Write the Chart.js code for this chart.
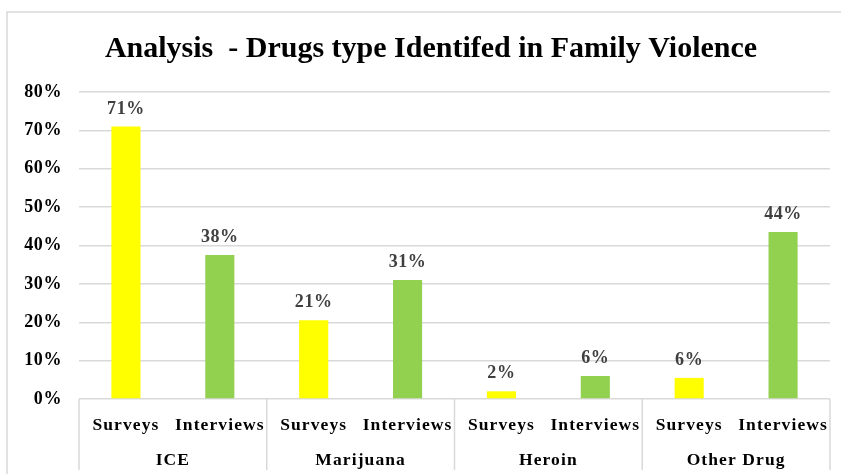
<!DOCTYPE html>
<html>
<head>
<meta charset="utf-8">
<script src="https://cdn.jsdelivr.net/npm/chart.js@4"></script>
<style>
  html, body { margin: 0; padding: 0; background: #fff; }
  #wrap { width: 841px; height: 474px; position: relative; }
</style>
</head>
<body>
<div id="wrap"><canvas id="drugChart"></canvas></div>
<script>
// Data
const drugs = ['ICE', 'Marijuana', 'Heroin', 'Other Drug'];
const methods = ['Surveys', 'Interviews'];
const surveys = [71, 20.5, 2, 5.5];
const interviews = [37.5, 31, 6, 43.5];
const yTicks = [0, 10, 20, 30, 40, 50, 60, 70, 80];

const titleText = 'Analysis  - Drugs type Identifed in Family Violence';
const serif = "'Liberation Serif', 'Times New Roman', serif";

// flatten into 8 bars: Surveys / Interviews per drug
const labels = [];
const values = [];
const colors = [];
drugs.forEach((d, i) => {
    labels.push(methods[0]); values.push(surveys[i]); colors.push('#FFFF00');
    labels.push(methods[1]); values.push(interviews[i]); colors.push('#92D050');
});

const decorPlugin = {
    id: 'decor',
    beforeDraw(chart) {
        const ctx = chart.ctx;
        ctx.save();
        ctx.fillStyle = '#fff';
        ctx.fillRect(0, 0, chart.width, chart.height);
        // outer chart frame (cropped on right/bottom)
        ctx.strokeStyle = '#d9d9d9';
        ctx.lineWidth = 1.5;
        ctx.strokeRect(7, 12, 900, 900);
        // title
        ctx.fillStyle = '#000';
        ctx.font = 'bold 30px ' + serif;
        ctx.textAlign = 'center';
        ctx.textBaseline = 'alphabetic';
        ctx.fillText(titleText, 431, 57);
        ctx.restore();
        chart.ctx.letterSpacing = '0.6px';
    },
    afterDatasetsDraw(chart) {
        const ctx = chart.ctx;
        const meta = chart.getDatasetMeta(0);
        ctx.save();
        ctx.letterSpacing = '0.6px';
        ctx.font = 'bold 18px ' + serif;
        ctx.fillStyle = '#404040';
        ctx.textAlign = 'center';
        ctx.textBaseline = 'alphabetic';
        meta.data.forEach((bar, i) => {
            ctx.fillText(Math.round(values[i]) + '%', bar.x, bar.y - 13);
        });
        ctx.restore();
    },
    afterDraw(chart) {
        const ctx = chart.ctx;
        const x = chart.scales.x;
        const area = chart.chartArea;
        const half = (x.getPixelForValue(1) - x.getPixelForValue(0)) / 2;
        ctx.save();
        // group separators
        ctx.strokeStyle = '#d9d9d9';
        ctx.lineWidth = 1.5;
        for (let g = 0; g <= drugs.length; g++) {
            const px = g < drugs.length ? x.getPixelForValue(g * 2) - half : x.getPixelForValue(g * 2 - 1) + half;
            ctx.beginPath();
            ctx.moveTo(px, area.bottom);
            ctx.lineTo(px, area.bottom + 71);
            ctx.stroke();
        }
        // category labels
        ctx.fillStyle = '#000';
        ctx.font = 'bold 17.5px ' + serif;
        ctx.letterSpacing = '1.1px';
        ctx.textAlign = 'center';
        ctx.textBaseline = 'alphabetic';
        labels.forEach((l, i) => {
            ctx.fillText(l, x.getPixelForValue(i), area.bottom + 31);
        });
        drugs.forEach((d, g) => {
            const cx = (x.getPixelForValue(g * 2) + x.getPixelForValue(g * 2 + 1)) / 2;
            ctx.fillText(d, cx, area.bottom + 66);
        });
        ctx.restore();
    }
};

new Chart(document.getElementById('drugChart'), {
    type: 'bar',
    data: {
        labels,
        datasets: [{
            data: values,
            backgroundColor: colors,
            borderWidth: 0,
            barPercentage: 0.31,
            categoryPercentage: 1
        }]
    },
    options: {
        responsive: true,
        maintainAspectRatio: false,
        animation: false,
        layout: { padding: { top: 92, right: 11, bottom: 0, left: 0 } },
        plugins: {
            legend: { display: false },
            title: { display: false },
            tooltip: { enabled: false }
        },
        scales: {
            x: {
                grid: { display: false },
                border: { display: false },
                ticks: { display: false },
                afterFit: s => { s.height = 75; }
            },
            y: {
                min: 0,
                max: 80,
                afterFit: s => { s.width = 79; },
                afterBuildTicks: s => { s.ticks = yTicks.map(v => ({ value: v })); },
                border: { display: false },
                grid: { color: '#d9d9d9', lineWidth: 1.5, drawTicks: false },
                ticks: {
                    padding: 17,
                    color: '#000',
                    font: { family: serif, size: 18, weight: 'bold' },
                    callback: v => v + '%'
                }
            }
        }
    },
    plugins: [decorPlugin]
});
</script>
</body>
</html>
